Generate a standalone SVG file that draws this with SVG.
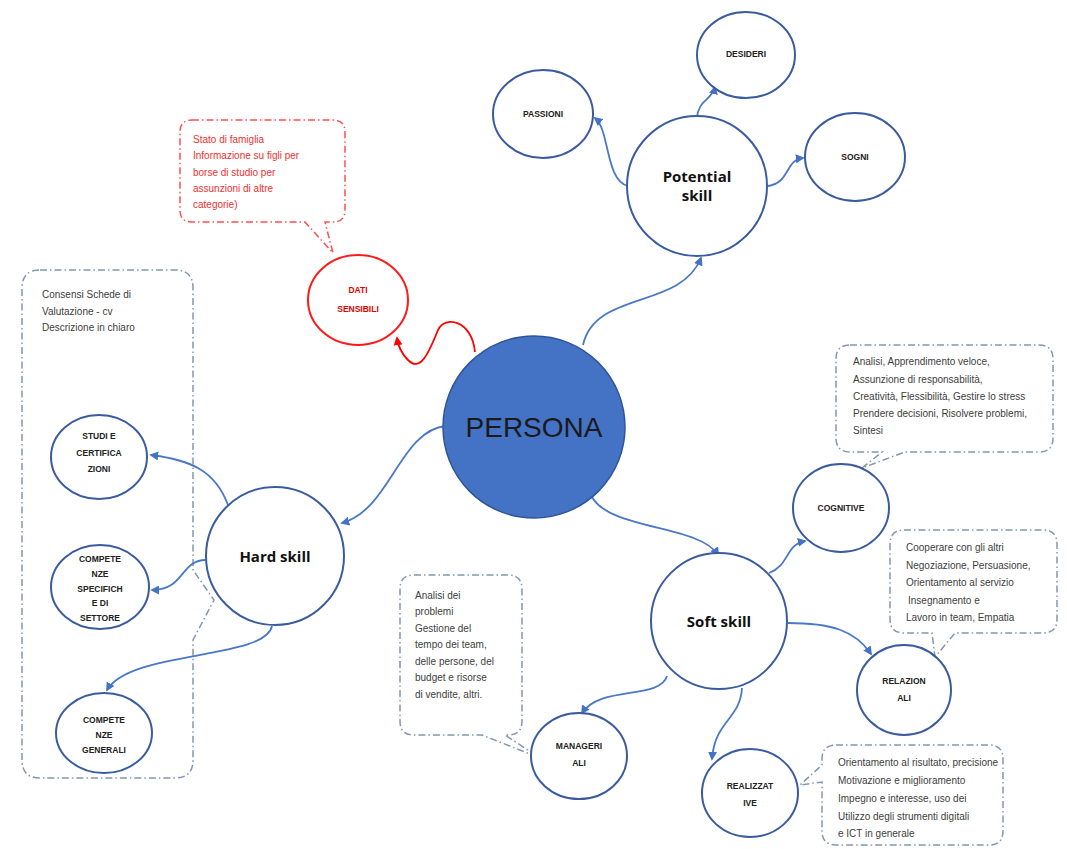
<svg xmlns="http://www.w3.org/2000/svg" width="1067" height="849" viewBox="0 0 1067 849">
<defs>
<marker id="arr" viewBox="0 0 10 10" refX="8" refY="5" markerWidth="5" markerHeight="5" orient="auto"><path d="M0,0 L10,5 L0,10 Z" fill="#4472C4"/></marker>
<marker id="arrR" viewBox="0 0 10 10" refX="8" refY="5" markerWidth="5" markerHeight="5" orient="auto"><path d="M0,0 L10,5 L0,10 Z" fill="#FF0000"/></marker>
<style>
.n{fill:#fff;stroke:#3A5C9E;stroke-width:2}
.lb{font-family:"Liberation Sans",Arial,sans-serif;font-size:8.5px;font-weight:bold;fill:#222;text-anchor:middle}
.big{font-family:"Open Sans","Liberation Sans",sans-serif;font-size:15px;font-weight:bold;fill:#111;text-anchor:middle}
.c{fill:none;stroke:#4A78C8;stroke-width:1.8;marker-end:url(#arr)}
.co{fill:#fff;stroke:#8497B0;stroke-width:1.5;stroke-dasharray:7 3 1.5 3}
.ct{font-family:"Liberation Sans",Arial,sans-serif;font-size:10px;fill:#404040}
.cr{fill:#fff;stroke:#FF5050;stroke-width:1.5;stroke-dasharray:7 3 1.5 3}
.crt{font-family:"Liberation Sans",Arial,sans-serif;font-size:10px;fill:#F03030}
</style>
</defs>
<rect width="1067" height="849" fill="#fff"/>

<g id="callouts">
<path id="call-dati" class="cr" d="M192,120 H333 Q345,120 345,132 V210 Q345,222 333,222 H325 L333,253 L305,222 H192 Q180,222 180,210 V132 Q180,120 192,120 Z"/>
<path id="call-hard" class="co" d="M40,270 H175 Q193,270 193,288 V570 L214,600 L193,640 V760 Q193,778 175,778 H40 Q22,778 22,760 V288 Q22,270 40,270 Z"/>
<path id="call-cog" class="co" d="M850,345 H1039 Q1053,345 1053,359 V438 Q1053,452 1039,452 H905 L862,468 L882,452 H850 Q836,452 836,438 V359 Q836,345 850,345 Z"/>
<path id="call-rel" class="co" d="M904,530 H1043 Q1057,530 1057,544 V619 Q1057,633 1043,633 H955 L935,657 L932,633 H904 Q890,633 890,619 V544 Q890,530 904,530 Z"/>
<path id="call-man" class="co" d="M414,575 H508 Q522,575 522,589 V721 Q522,735 508,735 H505 L540,758 L482,735 H414 Q400,735 400,721 V589 Q400,575 414,575 Z"/>
<path id="call-real" class="co" d="M836,745 H989 Q1003,745 1003,759 V831 Q1003,845 989,845 H836 Q822,845 822,831 V782 L800,785 L822,765 V759 Q822,745 836,745 Z"/>
<g class="crt">
<text x="193" y="143">Stato di famiglia</text>
<text x="193" y="159">Informazione su figli per</text>
<text x="193" y="176">borse di studio per</text>
<text x="193" y="192">assunzioni di altre</text>
<text x="193" y="208">categorie)</text>
</g>
<g class="ct">
<text x="42" y="298">Consensi Schede di</text>
<text x="42" y="315">Valutazione - cv</text>
<text x="42" y="331">Descrizione in chiaro</text>
<text x="853" y="365">Analisi, Apprendimento veloce,</text>
<text x="853" y="383">Assunzione di responsabilità,</text>
<text x="853" y="400">Creatività, Flessibilità, Gestire lo stress</text>
<text x="853" y="417">Prendere decisioni, Risolvere problemi,</text>
<text x="853" y="434">Sintesi</text>
<text x="906" y="551">Cooperare con gli altri</text>
<text x="906" y="569">Negoziazione, Persuasione,</text>
<text x="906" y="586">Orientamento al servizio</text>
<text x="908" y="604">Insegnamento e</text>
<text x="906" y="621">Lavoro in team, Empatia</text>
<text x="415" y="599">Analisi dei</text>
<text x="415" y="615">problemi</text>
<text x="415" y="632">Gestione del</text>
<text x="415" y="648">tempo dei team,</text>
<text x="415" y="665">delle persone, del</text>
<text x="415" y="681">budget e risorse</text>
<text x="415" y="698">di vendite, altri.</text>
<text x="838" y="766">Orientamento al risultato, precisione</text>
<text x="838" y="784">Motivazione e miglioramento</text>
<text x="838" y="802">Impegno e interesse, uso dei</text>
<text x="838" y="820">Utilizzo degli strumenti digitali</text>
<text x="838" y="837">e ICT in generale</text>
</g>
</g>

<g id="connectors">
<path class="c" d="M583,345 C595,290 680,310 701,258"/>
<path class="c" d="M628,186 C605,180 610,130 595,118"/>
<path class="c" d="M697,118 C698,100 712,100 715,87"/>
<path class="c" d="M768,186 C790,183 785,160 803,158"/>
<path class="c" d="M446,426 C400,430 390,510 342,523"/>
<path class="c" d="M228,505 C215,470 190,460 151,455"/>
<path class="c" d="M206,560 C180,560 185,590 152,590"/>
<path class="c" d="M272,626 C265,660 130,650 107,690"/>
<path class="c" d="M592,497 C610,530 700,525 718,555"/>
<path class="c" d="M769,573 C790,565 785,545 805,541"/>
<path class="c" d="M788,623 C830,623 855,630 871,654"/>
<path class="c" d="M667,676 C660,700 600,685 582,713"/>
<path class="c" d="M742,688 C740,720 715,720 712,759"/>
<path d="M475,352 C472,320 445,315 438,330 C428,355 420,372 408,360 C402,354 398,345 397,338" fill="none" stroke="#FF0000" stroke-width="1.8" marker-end="url(#arrR)"/>
</g>

<g id="persona"><circle cx="534" cy="427" r="91" fill="#4472C4" stroke="#2F5597" stroke-width="1.5"/><text x="534" y="437" font-family="Liberation Sans,Arial,sans-serif" font-size="28" fill="#1a1a1a" text-anchor="middle">PERSONA</text></g>
<g id="potential"><circle class="n" cx="697" cy="186" r="70"/><text class="big" x="697" y="182">Potential</text><text class="big" x="697" y="201">skill</text></g>
<g id="passioni"><ellipse class="n" cx="543" cy="114" rx="50" ry="44"/><text class="lb" x="543" y="117">PASSIONI</text></g>
<g id="desideri"><ellipse class="n" cx="746" cy="55" rx="49" ry="43"/><text class="lb" x="746" y="57">DESIDERI</text></g>
<g id="sogni"><ellipse class="n" cx="855" cy="157" rx="50" ry="44"/><text class="lb" x="855" y="160">SOGNI</text></g>
<g id="dati"><ellipse cx="358" cy="300" rx="50" ry="45" fill="#fff" stroke="#FF1A1A" stroke-width="2"/><text class="lb" x="358" y="293" fill="#E00000" style="fill:#E00000">DATI</text><text class="lb" x="358" y="312" style="fill:#E00000">SENSIBILI</text></g>
<g id="hard"><circle class="n" cx="275" cy="556" r="69"/><text class="big" x="275" y="562">Hard skill</text></g>
<g id="studi"><ellipse class="n" cx="99" cy="457" rx="48" ry="42"/><text class="lb" x="99" y="439">STUDI E</text><text class="lb" x="99" y="456">CERTIFICA</text><text class="lb" x="99" y="472">ZIONI</text></g>
<g id="compspec"><ellipse class="n" cx="100" cy="587" rx="49" ry="42"/><text class="lb" x="100" y="562">COMPETE</text><text class="lb" x="100" y="577">NZE</text><text class="lb" x="100" y="592">SPECIFICH</text><text class="lb" x="100" y="606">E DI</text><text class="lb" x="100" y="621">SETTORE</text></g>
<g id="compgen"><ellipse class="n" cx="104" cy="733" rx="48" ry="40"/><text class="lb" x="104" y="723">COMPETE</text><text class="lb" x="104" y="738">NZE</text><text class="lb" x="104" y="753">GENERALI</text></g>
<g id="soft"><circle class="n" cx="719" cy="621" r="68"/><text class="big" x="719" y="627">Soft skill</text></g>
<g id="cognitive"><ellipse class="n" cx="841" cy="508" rx="48" ry="44"/><text class="lb" x="841" y="511">COGNITIVE</text></g>
<g id="relazionali"><ellipse class="n" cx="904" cy="690" rx="47" ry="45"/><text class="lb" x="904" y="684">RELAZION</text><text class="lb" x="904" y="701">ALI</text></g>
<g id="manageriali"><ellipse class="n" cx="579" cy="756" rx="48" ry="43"/><text class="lb" x="579" y="749">MANAGERI</text><text class="lb" x="579" y="766">ALI</text></g>
<g id="realizzative"><ellipse class="n" cx="750" cy="793" rx="48" ry="44"/><text class="lb" x="750" y="789">REALIZZAT</text><text class="lb" x="750" y="806">IVE</text></g>
</svg>
